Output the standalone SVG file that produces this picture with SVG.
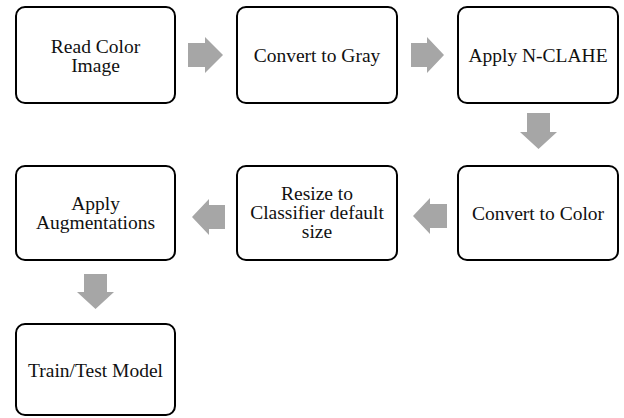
<svg xmlns="http://www.w3.org/2000/svg" width="624" height="418" viewBox="0 0 624 418">
<style>
.box{fill:#fff;stroke:#000;stroke-width:2}
.lbl{font-family:'Liberation Serif','Times New Roman',serif;font-size:19.5px;fill:#111;text-anchor:middle}
.arr{fill:#a6a6a6}
</style>
<rect width="624" height="418" fill="#fff"/>
<g id="connectors">
<polygon class="arr" points="188,43 205,43 205,37 223,55 205,73 205,67 188,67"/>
<polygon class="arr" points="411,43 427,43 427,37 444,55 427,73 427,67 411,67"/>
<polygon class="arr" points="527,113 550,113 550,132 557,132 538.5,149 520,132 527,132"/>
<polygon class="arr" points="447,204 430,204 430,198 413,216 430,234 430,228 447,228"/>
<polygon class="arr" points="225,205 209,205 209,199 192,217 209,235 209,229 225,229"/>
<polygon class="arr" points="84,274 107,274 107,292 114,292 95.5,309 77,292 84,292"/>
</g>
<g id="node1">
<rect class="box" x="16" y="7" width="159" height="96" rx="9"/>
<text class="lbl" x="95.5" y="53">Read Color</text>
<text class="lbl" x="95.5" y="72">Image</text>
</g>
<g id="node2">
<rect class="box" x="237" y="7" width="160" height="96" rx="9"/>
<text class="lbl" x="317" y="62">Convert to Gray</text>
</g>
<g id="node3">
<rect class="box" x="458" y="7" width="160" height="96" rx="9"/>
<text class="lbl" x="538" y="62">Apply N-CLAHE</text>
</g>
<g id="node4">
<rect class="box" x="458" y="166" width="160" height="94" rx="9"/>
<text class="lbl" x="538" y="220">Convert to Color</text>
</g>
<g id="node5">
<rect class="box" x="237" y="166" width="160" height="94" rx="9"/>
<text class="lbl" x="317" y="200">Resize to</text>
<text class="lbl" x="317" y="219">Classifier default</text>
<text class="lbl" x="317" y="238">size</text>
</g>
<g id="node6">
<rect class="box" x="16" y="166" width="159" height="94" rx="9"/>
<text class="lbl" x="95.5" y="210">Apply</text>
<text class="lbl" x="95.5" y="229">Augmentations</text>
</g>
<g id="node7">
<rect class="box" x="16" y="324" width="159" height="91" rx="9"/>
<text class="lbl" x="95.5" y="377">Train/Test Model</text>
</g>
</svg>
